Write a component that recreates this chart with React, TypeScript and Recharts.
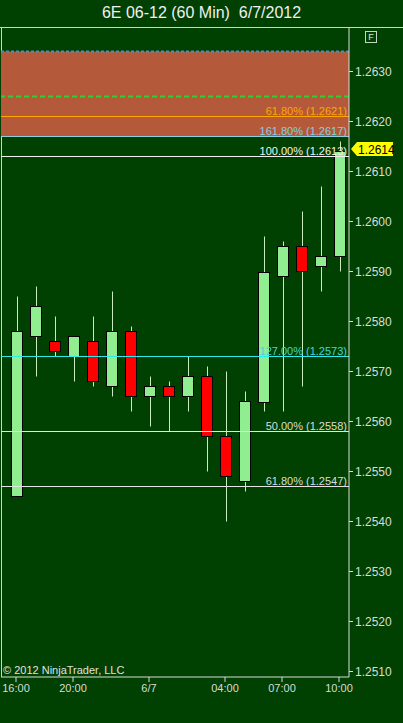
import React from 'react';
import { ComposedChart, Bar, XAxis, YAxis, ReferenceLine, ReferenceArea } from 'recharts';

// 6E 60-minute bars, 16:00 (6/6) through 10:00 (6/7)
const times = ['16:00', '18:00', '19:00', '20:00', '21:00', '22:00', '23:00', '6/7', '01:00', '02:00', '03:00', '04:00', '05:00', '06:00', '07:00', '08:00', '09:00', '10:00'];
const opens = [1.2545, 1.2577, 1.2576, 1.2573, 1.2576, 1.2567, 1.2578, 1.2565, 1.2567, 1.2565, 1.2569, 1.2557, 1.2548, 1.2564, 1.2589, 1.2595, 1.2591, 1.2593];
const highs = [1.2585, 1.2587, 1.2581, 1.2577, 1.2581, 1.2586, 1.2579, 1.2569, 1.2568, 1.2573, 1.2571, 1.2570, 1.2566, 1.2597, 1.2596, 1.2602, 1.2607, 1.2616];
const lows = [1.2545, 1.2569, 1.2573, 1.2568, 1.2567, 1.2565, 1.2562, 1.2559, 1.2558, 1.2562, 1.2550, 1.2540, 1.2546, 1.2562, 1.2562, 1.2567, 1.2586, 1.2590];
const closes = [1.2578, 1.2583, 1.2574, 1.2577, 1.2568, 1.2578, 1.2565, 1.2567, 1.2565, 1.2569, 1.2557, 1.2549, 1.2564, 1.2590, 1.2595, 1.2590, 1.2593, 1.2614];

const timeTicks = [0, 3, 7, 11, 14, 17];
const priceTicks = [1.251, 1.252, 1.253, 1.254, 1.255, 1.256, 1.257, 1.258, 1.259, 1.26, 1.261, 1.262, 1.263];
const lastPrice = 1.2614;

// fib target zone and levels
const zoneTop = 1.2634;
const zoneMid = 1.2625;
const zoneBottom = 1.2617;
const levelValues = [1.2621, 1.2617, 1.2613, 1.2573, 1.2558, 1.2547];
const levelLabels = ['61.80% (1.2621)', '161.80% (1.2617)', '100.00% (1.2613)', '127.00% (1.2573)', '50.00% (1.2558)', '61.80% (1.2547)'];

const BG = '#004000';
const FG = '#d8dcd8';
const UP = '#90ee90';
const DOWN = '#ff0000';
const WICK = '#c8ecc0';
const LEVEL_LINE = ['#ffa500', '#8ecfe0', '#f0f0f0', '#30eaea', '#e4e4e4', '#e4e4e4'];
const LEVEL_TEXT = ['#ffa500', '#87cedf', '#f4f4f4', '#3fd8d8', '#dcdcdc', '#dcdcdc'];

// half a pixel (50000 px per unit) so 1px lines land on pixel centres
const HALF_PX = 0.00001;

const data = times.map((t, i) => ({
  idx: i,
  t,
  o: opens[i],
  h: highs[i],
  l: lows[i],
  c: closes[i],
  range: [lows[i], highs[i]],
}));

function Candle(props: any) {
  const { x, y, width, height, payload } = props;
  const { o, h, l, c } = payload;
  const top = height < 0 ? y + height : y;
  const span = Math.abs(height);
  const k = span / (h - l);
  const py = (v: number) => top + (h - v) * k;
  const cx = Math.round(x + width / 2) + 0.5;
  const bodyTop = py(Math.max(o, c));
  const bodyBot = py(Math.min(o, c));
  return (
    <g>
      <line x1={cx} x2={cx} y1={top} y2={top + span} stroke={WICK} strokeWidth={1} />
      <rect
        x={Math.round(x) + 0.5}
        y={Math.round(bodyTop) + 0.5}
        width={Math.round(width) - 1}
        height={Math.max(1, Math.round(bodyBot - bodyTop))}
        fill={c >= o ? UP : DOWN}
        stroke="#000"
        strokeWidth={1}
      />
    </g>
  );
}

function PriceTag({ viewBox }: any) {
  const x = viewBox.x + viewBox.width + 2;
  const y = Math.round(viewBox.y) - 2;
  return (
    <g>
      <polygon
        points={`${x},${y} ${x + 6},${y - 7} ${x + 42},${y - 7} ${x + 42},${y + 7} ${x + 6},${y + 7}`}
        fill="#ffff00"
      />
      <text x={x + 7} y={y + 4.5} fontSize={12} fill="#000">
        {lastPrice.toFixed(4)}
      </text>
    </g>
  );
}

export default function App() {
  return (
    <div
      style={{
        position: 'absolute',
        left: 0,
        top: 0,
        width: 403,
        height: 723,
        background: BG,
        fontFamily: '"Liberation Sans", Arial, sans-serif',
        overflow: 'hidden',
      }}
    >
      <div
        style={{
          position: 'absolute',
          top: 4,
          left: 0,
          width: 403,
          textAlign: 'center',
          fontSize: 16,
          color: '#f0f0f0',
          whiteSpace: 'pre',
        }}
      >
        {'6E 06-12 (60 Min)  6/7/2012'}
      </div>
      {/* panel borders */}
      <div style={{ position: 'absolute', top: 27, left: 0, width: 403, height: 1, background: '#c8d8c8' }} />
      <div style={{ position: 'absolute', top: 27, left: 1, width: 1, height: 650, background: '#c8d8c8' }} />
      <div
        style={{
          position: 'absolute',
          top: 31,
          left: 365,
          width: 10,
          height: 10,
          border: '1px solid #c0d8c0',
          color: '#e0e0e0',
          fontSize: 9,
          lineHeight: '10px',
          textAlign: 'center',
        }}
      >
        F
      </div>

      <div style={{ position: 'absolute', top: 0, left: 0 }}>
        <ComposedChart width={403} height={723} data={data} margin={{ top: 27, right: 0, bottom: 0, left: 1 }}>
          <XAxis
            dataKey="idx"
            type="number"
            domain={[-15 / 19, 17.5263]}
            allowDataOverflow
            ticks={timeTicks}
            tickFormatter={(v: number) => times[v]}
            interval={0}
            height={46}
            axisLine={{ stroke: FG }}
            tickLine={{ stroke: FG }}
            tickSize={5}
            tickMargin={2}
            tick={{ fill: FG, fontSize: 11 }}
          />
          <YAxis
            orientation="right"
            width={54}
            domain={[1.2509 - HALF_PX, 1.2639 - HALF_PX]}
            allowDataOverflow
            ticks={priceTicks}
            interval={0}
            tickFormatter={(v: number) => v.toFixed(4)}
            axisLine={{ stroke: FG }}
            tickLine={{ stroke: FG }}
            tickSize={4}
            tickMargin={2}
            tick={{ fill: FG, fontSize: 12 }}
          />
          <ReferenceArea y1={zoneBottom} y2={zoneTop} fill="#b45a3a" fillOpacity={1} stroke="none" />
          <ReferenceLine y={zoneTop} stroke="#4a8cc0" strokeWidth={2} strokeDasharray="3 2" />
          <ReferenceLine y={zoneMid} stroke="#32cd32" strokeWidth={2} strokeDasharray="5 3" />
          {levelValues.map((v, i) => (
            <ReferenceLine
              key={levelLabels[i]}
              y={v}
              stroke={LEVEL_LINE[i]}
              strokeWidth={1}
              label={{
                value: levelLabels[i],
                position: 'insideBottomRight',
                offset: 2,
                fill: LEVEL_TEXT[i],
                fontSize: 11,
              }}
            />
          ))}
          <Bar dataKey="range" barSize={12} shape={<Candle />} isAnimationActive={false} />
          <ReferenceLine y={lastPrice} stroke="none" label={<PriceTag />} />
        </ComposedChart>
      </div>

      <div style={{ position: 'absolute', left: 3, top: 664, fontSize: 11, color: '#e0e0e0' }}>
        © 2012 NinjaTrader, LLC
      </div>
    </div>
  );
}
